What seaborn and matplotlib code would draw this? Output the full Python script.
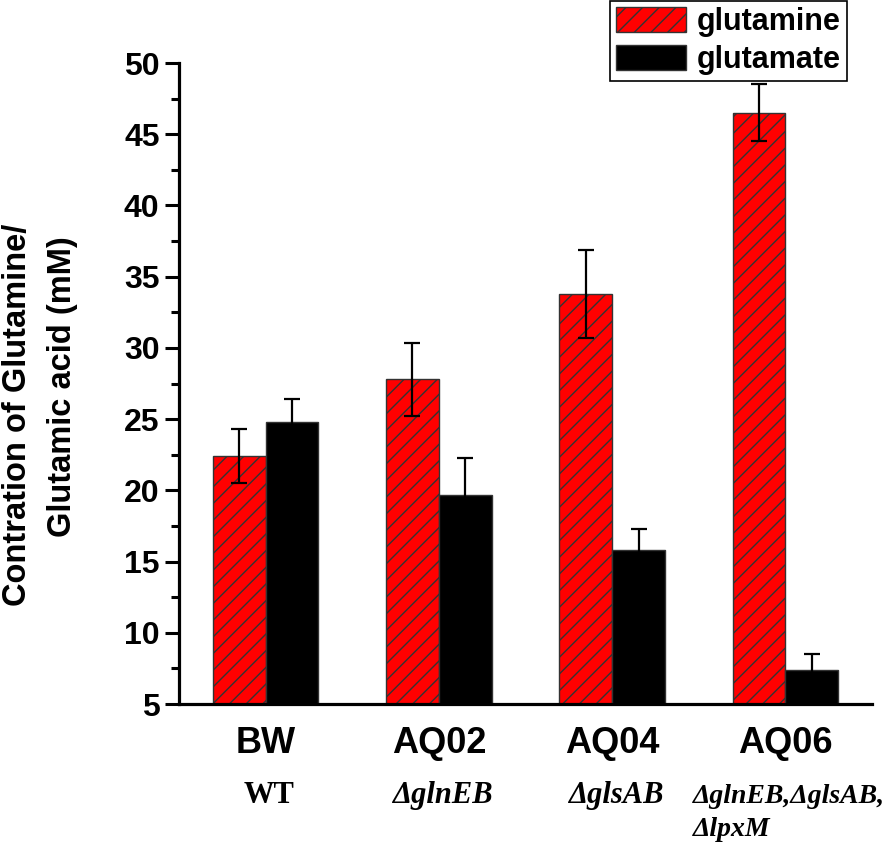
import pandas as pd
import seaborn as sns
import matplotlib.pyplot as plt
from matplotlib.patches import Patch
from matplotlib.ticker import MultipleLocator

# values
strains = ["BW", "AQ02", "AQ04", "AQ06"]
genotypes = ["WT", "ΔglnEB", "ΔglsAB", "ΔglnEB,ΔglsAB,\nΔlpxM"]
glutamine = [22.4, 27.8, 33.8, 46.5]
glutamine_err = [1.9, 2.55, 3.1, 2.0]
glutamate = [24.8, 19.65, 15.8, 7.4]
glutamate_err = [1.6, 2.65, 1.5, 1.1]

sns.set_style("ticks")
plt.rcParams["font.family"] = ["Liberation Sans", "DejaVu Sans"]
plt.rcParams["hatch.linewidth"] = 1.0
for k in ["text.color", "axes.labelcolor", "xtick.color", "ytick.color",
          "axes.edgecolor"]:
    plt.rcParams[k] = "black"

df = pd.DataFrame({
    "strain": strains * 2,
    "value": glutamine + glutamate,
    "amino": ["glutamine"] * 4 + ["glutamate"] * 4,
})

fig, ax = plt.subplots(figsize=(8.93, 8.47), dpi=100)
fig.subplots_adjust(left=0.2004, right=0.9765, bottom=0.1688, top=0.9256)

sns.barplot(
    data=df, x="strain", y="value", hue="amino",
    palette={"glutamine": "#ff0000", "glutamate": "#000000"},
    saturation=1, width=0.61, errorbar=None, edgecolor="#333333",
    linewidth=1, legend=False, ax=ax,
)

for p in ax.containers[0]:
    p.set_hatch("//")

for cont, vals, errs in [(ax.containers[0], glutamine, glutamine_err),
                         (ax.containers[1], glutamate, glutamate_err)]:
    xs = [p.get_x() + p.get_width() / 2 for p in cont]
    ax.errorbar(xs, vals, yerr=errs, fmt="none", ecolor="black",
                elinewidth=1.6, capsize=5.5, capthick=1.6, zorder=4)

ax.set_xlim(-0.5, 3.5)
ax.set_ylim(5, 50)
ax.yaxis.set_major_locator(MultipleLocator(5))
ax.yaxis.set_minor_locator(MultipleLocator(2.5))
sns.despine(ax=ax)
for s in ["left", "bottom"]:
    ax.spines[s].set_linewidth(2.3)
ax.tick_params(axis="y", which="major", length=10, width=2.2,
               labelsize=23, pad=4)
ax.tick_params(axis="y", which="minor", length=6, width=2.2)
ax.tick_params(axis="x", length=0, labelsize=26, pad=16)
for lab in ax.get_yticklabels() + ax.get_xticklabels():
    lab.set_fontweight("bold")

ax.set_xlabel("")
ax.set_ylabel("")
fig.text(18 / 893, 1 - 415 / 847, "Contration of Glutamine/", rotation=90,
         ha="center", va="center", fontsize=23.5, fontweight="bold")
fig.text(63 / 893, 1 - 387 / 847, "Glutamic acid (mM)", rotation=90,
         ha="center", va="center", fontsize=23.5, fontweight="bold")

# genotype row under the strain names
tr = ax.get_xaxis_transform()
serif = ["Liberation Serif", "DejaVu Serif"]
row_y = -0.154
line_step = 33 / 641
for i, g in enumerate(genotypes):
    style = "normal" if g == "WT" else "italic"
    if "\n" in g:
        for j, line in enumerate(g.split("\n")):
            ax.text(2.465, row_y - j * line_step, line, transform=tr,
                    ha="left", va="baseline", fontsize=20, fontweight="bold",
                    fontstyle=style, family=serif)
    else:
        ax.text(i + 0.02, row_y, g, transform=tr, ha="center",
                va="baseline", fontsize=22, fontweight="bold",
                fontstyle=style, family=serif)

handles = [
    Patch(facecolor="#ff0000", edgecolor="#333333", hatch="//", label="glutamine"),
    Patch(facecolor="#000000", edgecolor="#333333", label="glutamate"),
]
leg = fig.legend(handles=handles, loc="upper right",
                 bbox_to_anchor=(847 / 893, 1 - 1 / 847),
                 prop={"weight": "bold", "size": 22}, frameon=True,
                 fancybox=False, edgecolor="black", framealpha=1,
                 handlelength=2.3, handleheight=0.9, borderpad=0.2,
                 labelspacing=0.25, handletextpad=0.35, borderaxespad=0)
leg.get_frame().set_linewidth(1.2)

plt.savefig("out.png", dpi=100)
